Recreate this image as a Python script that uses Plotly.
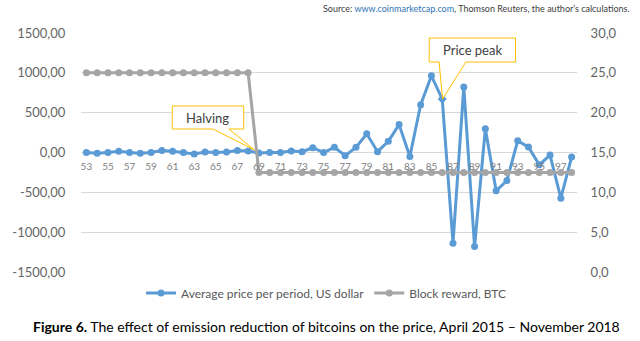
import plotly.graph_objects as go

periods = list(range(53, 99))
price_change = [0, -10, 0, 15, 0, -10, 0, 25, 15, 0, -20, 5, 0, 5, 25, 20,
                -5, 0, 0, 20, 10, 60, 0, 65, -40, 65, 235, 10, 140, 350, -50,
                600, 963, 670, -1138, 821, -1180, 298, -481, -352, 147, 68,
                -155, -32, -573, -58]
block_reward = [25.0] * 16 + [12.5] * 30
tick_labels = [str(p) for p in range(53, 98, 2)]

BLUE = "#5B9BD5"
GRAY = "#A5A5A5"
GOLD = "#FFC000"
FONT = "Lato"

W, H = 640, 341
L, R, T, B = 77, 577, 33, 272
XR = [52.5, 98.5]
YR = [-1500, 1500]


def to_data(px, py):
    x = XR[0] + (px - L) / (R - L) * (XR[1] - XR[0])
    y = YR[1] - (py - T) / (B - T) * (YR[1] - YR[0])
    return x, y


def callout(box, base, tip):
    x0, y0, x1, y1 = box
    pts = [(x0, y0), (x1, y0), (x1, y1), (base[1], y1), tip, (base[0], y1), (x0, y1)]
    d = ""
    for i, (px, py) in enumerate(pts):
        x, y = to_data(px, py)
        d += ("M" if i == 0 else "L") + f"{x:.4f},{y:.4f} "
    return dict(type="path", path=d + "Z", xref="x", yref="y",
                line=dict(color=GOLD, width=1), fillcolor="white", layer="above")


symbols = ["diamond" if p == 86 else "circle" for p in periods]

fig = go.Figure()
fig.add_trace(go.Scatter(
    x=periods, y=price_change, name="Average price per period, US dollar",
    mode="lines+markers", line=dict(color=BLUE, width=3),
    marker=dict(color=BLUE, size=7, symbol=symbols), yaxis="y"))
fig.add_trace(go.Scatter(
    x=periods, y=block_reward, name="Block reward, BTC",
    mode="lines+markers", line=dict(color=GRAY, width=3),
    marker=dict(color=GRAY, size=7), yaxis="y2"))

fig.update_layout(
    width=W, height=H,
    margin=dict(l=L, r=W - R, t=T, b=H - B, pad=0),
    paper_bgcolor="white", plot_bgcolor="white",
    font=dict(family=FONT, color="#595959"),
    showlegend=True,
    legend=dict(orientation="h", x=0.495, xanchor="center", y=-0.088, yanchor="middle",
                font=dict(size=12, color="#595959"), itemwidth=30,
                traceorder="normal"),
    xaxis=dict(range=XR, tickmode="array", tickvals=list(range(53, 98, 2)),
               ticktext=tick_labels, showgrid=False, zeroline=False,
               anchor="free", position=0.5, showline=False,
               ticks="outside", ticklen=4, tickcolor="rgba(0,0,0,0)",
               tickfont=dict(size=10, color="#808080")),
    yaxis=dict(range=YR, tickvals=[-1500, -1000, -500, 0, 500, 1000, 1500],
               ticktext=["-1500,00", "-1000,00", "-500,00", "0,00", "500,00", "1000,00", "1500,00"],
               showgrid=True, gridcolor="#D9D9D9", gridwidth=1,
               zeroline=True, zerolinecolor="#D9D9D9", zerolinewidth=1,
               ticks="outside", ticklen=12, tickcolor="rgba(0,0,0,0)",
               tickfont=dict(size=13, color="#666666")),
    yaxis2=dict(range=[0, 30], overlaying="y", side="right",
                tickvals=[0, 5, 10, 15, 20, 25, 30],
                ticktext=["0,0", "5,0", "10,0", "15,0", "20,0", "25,0", "30,0"],
                showgrid=False, zeroline=False,
                ticks="outside", ticklen=10, tickcolor="rgba(0,0,0,0)",
                tickfont=dict(size=13, color="#666666")),
)

fig.add_shape(callout((169, 106, 241, 129), (210, 226), (252, 150)))
fig.add_shape(callout((428, 38, 515, 62), (438, 465), (441.5, 99)))

hx, hy = to_data(205, 117.5)
px_, py_ = to_data(471.5, 50)
fig.add_annotation(x=hx, y=hy, xref="x", yref="y", text="Halving", showarrow=False,
                   font=dict(size=13, color="#404040"))
fig.add_annotation(x=px_, y=py_, xref="x", yref="y", text="Price peak", showarrow=False,
                   font=dict(size=13, color="#404040"))

fig.add_annotation(
    x=(632 - L) / (R - L), y=(B - 9) / (B - T), xref="paper", yref="paper",
    xanchor="right", yanchor="middle", showarrow=False,
    text="Source: <span style='color:#2E75B6'>www.coinmarketcap.com</span>, Thomson Reuters, the author\u2019s calculations.",
    font=dict(size=9, color="#404040"))

fig.add_annotation(
    x=(324 - L) / (R - L), y=(B - 326) / (B - T), xref="paper", yref="paper",
    xanchor="center", yanchor="middle", showarrow=False,
    text="<b>Figure 6.</b> The effect of emission reduction of bitcoins on the price, April 2015 \u2013 November 2018",
    font=dict(size=14, color="#000000"))

fig.write_html("out.html")
